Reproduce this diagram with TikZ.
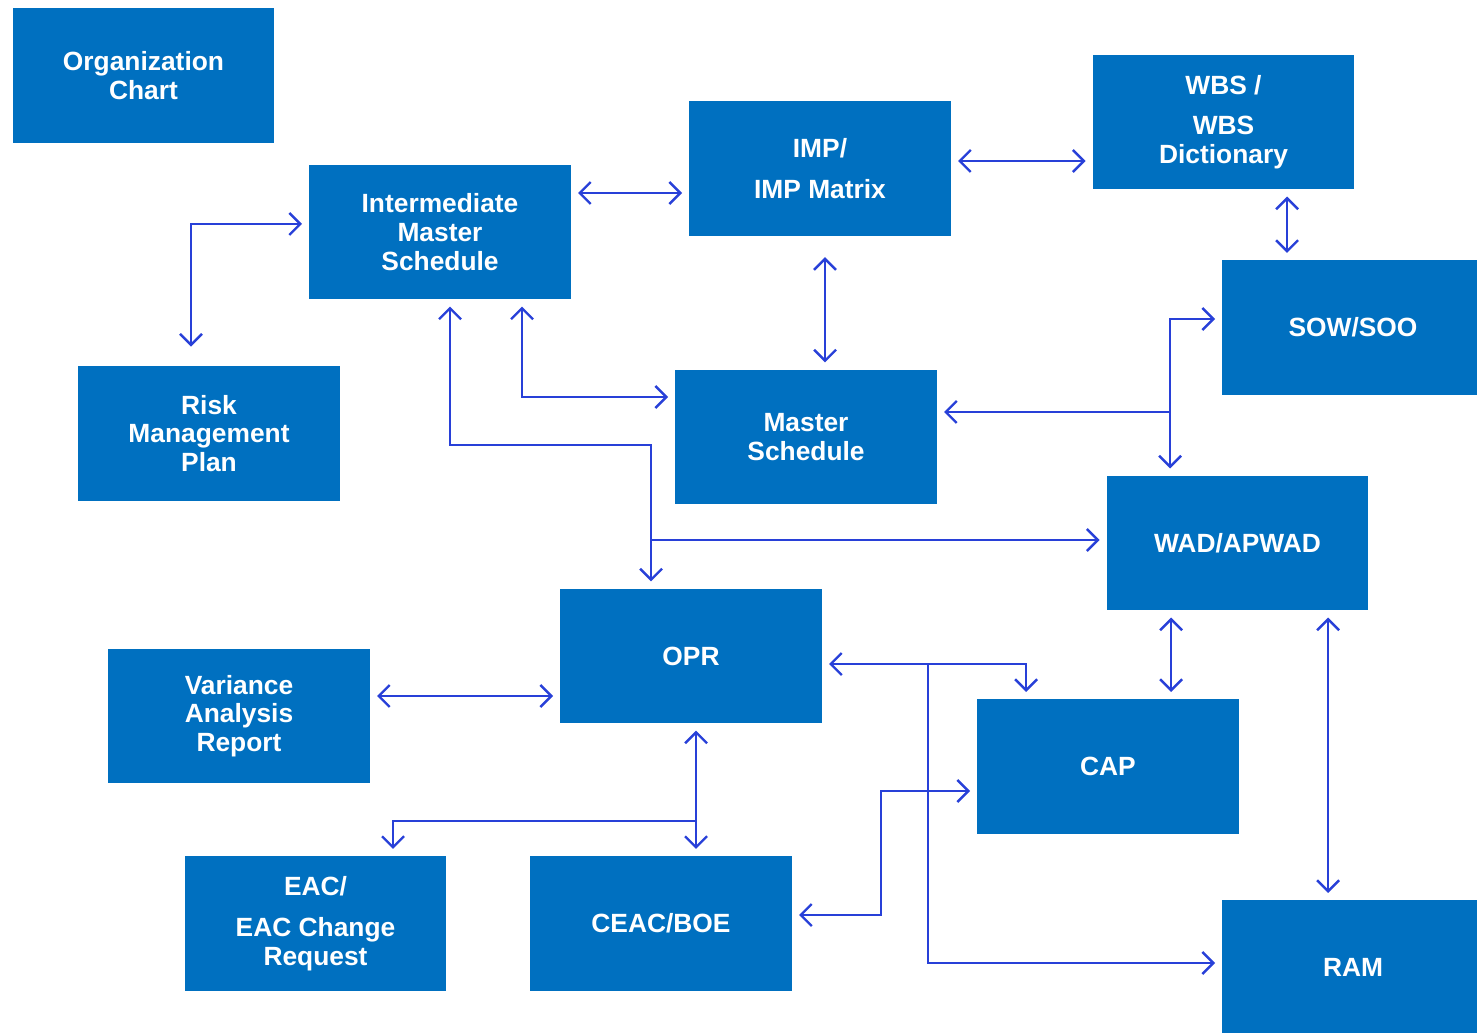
\documentclass[tikz,border=0pt]{standalone}
\usepackage{fontspec}
\setmainfont{Liberation Sans}
\usetikzlibrary{arrows.meta, positioning}
\definecolor{boxblue}{RGB}{0,112,192}
\definecolor{linkblue}{RGB}{40,64,216}

\begin{document}
\begin{tikzpicture}[x=0.02cm, y=-0.02cm,
  box/.style={fill=boxblue, text=white, minimum width=5.24cm, minimum height=2.7cm,
    inner sep=0pt, outer sep=4pt, align=center, font=\fontsize{15}{16.3}\selectfont\bfseries},
  link/.style={draw=linkblue, line width=1.4pt},
  >={Straight Barb[length=2.2mm, width=4.4mm]}]
	\useasboundingbox (0,0) rectangle (1477,1033);

	\node[box] (org)	at (143.5, 75.5)	{Organization\\Chart};
	\node[box] (ims)	at (440, 232)		{Intermediate\\Master\\Schedule};
	\node[box] (imp)	at (820, 168.5)		{IMP/\\[7pt]IMP Matrix};
	\node[box] (wbs)	at (1223.5, 122)	{WBS /\\[7pt]WBS\\Dictionary};
	\node[box] (sow)	at (1353, 327.5)	{SOW/SOO};
	\node[box] (risk)	at (209, 433.5)		{Risk\\Management\\Plan};
	\node[box] (ms)		at (806, 437)		{Master\\Schedule};
	\node[box] (wad)	at (1237.5, 543)	{WAD/APWAD};
	\node[box] (opr)	at (691, 656)		{OPR};
	\node[box] (var)	at (239, 716)		{Variance\\Analysis\\Report};
	\node[box] (cap)	at (1108, 766.5)	{CAP};
	\node[box] (eac)	at (315.5, 923.5)	{EAC/\\[7pt]EAC Change\\Request};
	\node[box] (ceac)	at (661, 923.5)		{CEAC/BOE};
	\node[box] (ram)	at (1353, 967.5)	{RAM};

	%partie haute
	\coordinate (imsimp)	at (630, 193);
	\coordinate (impwbs)	at (1020, 161);
	\coordinate (wbssow)	at (1287, 225);
	\coordinate (impms)		at (825, 300);
	\coordinate (riskims)	at (191, 224);
	\coordinate (imsms)		at (522, 397);

	\draw[link, <->] (ims.east |- imsimp) to (imp.west |- imsimp);
	\draw[link, <->] (imp.east |- impwbs) to (wbs.west |- impwbs);
	\draw[link, <->] (wbs.south -| wbssow) to (sow.north -| wbssow);
	\draw[link, <->, shorten <=8pt] (imp.south -| impms) to (ms.north -| impms);
	\draw[link, <->, shorten <=7pt] (risk.north -| riskims) |- (ims.west |- riskims);
	\draw[link, <->] (ims.south -| imsms) |- (ms.west |- imsms);

	%partie milieu
	\coordinate (imsopr)	at (450, 445);
	\coordinate (oprwad)	at (651, 540);
	\coordinate (sowtop)	at (1170, 319);
	\coordinate (sowms)		at (1170, 412);

	\draw[link, <->] (ims.south -| imsopr) |- (oprwad |- imsopr) to (opr.north -| oprwad);
	\draw[link, ->] (oprwad) to (wad.west |- oprwad);
	\draw[link, ->] (sowms) |- (sow.west |- sowtop);
	\draw[link, ->] (sowtop) to (wad.north -| sowtop);
	\draw[link, ->] (sowms) to (ms.east |- sowms);

	%partie basse
	\coordinate (wadcap)	at (1171, 650);
	\coordinate (wadram)	at (1328, 750);
	\coordinate (oprsplit)	at (928, 664);
	\coordinate (oprcap)	at (1026, 664);
	\coordinate (ramin)		at (928, 963);
	\coordinate (varopr)	at (460, 696);
	\coordinate (oprdown)	at (696, 821);
	\coordinate (eactop)	at (393, 821);
	\coordinate (ceacout)	at (881, 915);
	\coordinate (capin)		at (881, 791);

	\draw[link, <->] (wad.south -| wadcap) to (cap.north -| wadcap);
	\draw[link, <->] (wad.south -| wadram) to (ram.north -| wadram);
	\draw[link, <->] (opr.east |- oprsplit) -| (cap.north -| oprcap);
	\draw[link, ->] (oprsplit) |- (ram.west |- ramin);
	\draw[link, <->] (var.east |- varopr) to (opr.west |- varopr);
	\draw[link, <->] (opr.south -| oprdown) to (ceac.north -| oprdown);
	\draw[link, ->] (oprdown) -| (eac.north -| eactop);
	\draw[link, <->] (ceac.east |- ceacout) -| (capin) to (cap.west |- capin);

\end{tikzpicture}
\end{document}
